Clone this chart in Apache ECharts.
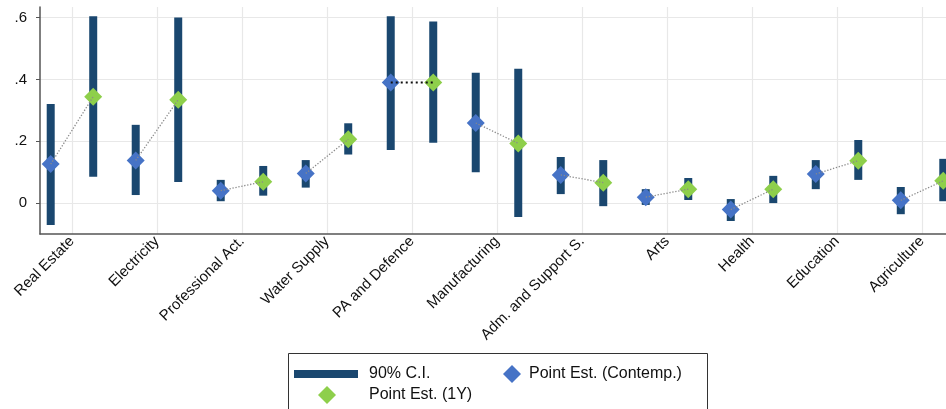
<!DOCTYPE html>
<html>
<head>
<meta charset="utf-8">
<script src="https://cdn.jsdelivr.net/npm/echarts@6/dist/echarts.min.js"></script>
<style>html,body{margin:0;padding:0;background:#fff}#c{width:946px;height:409px}</style>
</head>
<body>
<div id="c"></div>
<script>
const categories = ['Real Estate','Electricity','Professional Act.','Water Supply','PA and Defence','Manufacturing','Adm. and Support S.','Arts','Health','Education','Agriculture'];
const contempPoint = [0.126, 0.138, 0.040, 0.096, 0.390, 0.259, 0.091, 0.019, -0.021, 0.094, 0.009];
const contempLow   = [-0.071, 0.026, 0.006, 0.050, 0.172, 0.100, 0.029, -0.006, -0.058, 0.045, -0.036];
const contempHigh  = [0.320, 0.253, 0.075, 0.139, 0.604, 0.421, 0.149, 0.045, 0.013, 0.139, 0.052];
const oneYPoint    = [0.344, 0.334, 0.069, 0.206, 0.390, 0.193, 0.066, 0.045, 0.045, 0.137, 0.072];
const oneYLow      = [0.085, 0.068, 0.024, 0.157, 0.195, -0.045, -0.010, 0.010, 0.000, 0.075, 0.006];
const oneYHigh     = [0.604, 0.600, 0.120, 0.258, 0.587, 0.434, 0.139, 0.081, 0.088, 0.204, 0.143];
const yTicks = [0, 0.2, 0.4, 0.6];

const OFF = 0.25;
const idx = categories.map((_, i) => i);
const ciData = [];
idx.forEach(i => {
  ciData.push([i - OFF, contempLow[i], contempHigh[i]]);
  ciData.push([i + OFF, oneYLow[i], oneYHigh[i]]);
});
const contempData = idx.map(i => [i - OFF, contempPoint[i]]);
const oneYData = idx.map(i => [i + OFF, oneYPoint[i]]);
const connGray = [];
const connBlack = [];
idx.forEach(i => {
  const tgt = categories[i] === 'PA and Defence' ? connBlack : connGray;
  tgt.push([i - OFF, contempPoint[i]], [i + OFF, oneYPoint[i]], '-');
});

const BLUE = '#4673c6', GREEN = '#8ecf4b', NAVY = '#1a476f';
const FONT = 'Liberation Sans, Arial, sans-serif';

const chart = echarts.init(document.getElementById('c'), null, {renderer: 'canvas'});
chart.setOption({
  animation: false,
  grid: {left: 40, top: 7, right: 0, bottom: 175, containLabel: false},
  xAxis: {
    type: 'value', min: -0.376, max: 10.282,
    axisLine: {show: true, onZero: false, lineStyle: {color: '#555', width: 1.5}},
    axisTick: {show: false, customValues: idx},
    axisLabel: {
      customValues: idx, rotate: 45, margin: 5,
      fontFamily: FONT, fontSize: 15, color: '#111',
      formatter: v => categories[Math.round(v)]
    },
    splitLine: {show: true, lineStyle: {color: '#e8e8e8', width: 1.2}}
  },
  yAxis: {
    type: 'value', min: -0.1, max: 0.634,
    axisLine: {show: true, onZero: false, lineStyle: {color: '#555', width: 1.5}},
    axisTick: {show: true, length: 4, customValues: yTicks, lineStyle: {color: '#555'}},
    axisLabel: {
      customValues: yTicks, margin: 13,
      fontFamily: FONT, fontSize: 15, color: '#111',
      formatter: v => (Math.abs(v) < 1e-9 ? '0' : v.toFixed(1).replace(/^0\./, '.').replace(/^-0\./, '-.'))
    },
    splitLine: {show: true, lineStyle: {color: '#e8e8e8', width: 1.2}}
  },
  legend: [
    {data: [{name: '90% C.I.', icon: 'rect'}], left: 294, top: 366, padding: 0,
     itemWidth: 64, itemHeight: 8, textStyle: {fontFamily: FONT, fontSize: 16, color: '#111', padding: [0,0,0,6]}},
    {data: [{name: 'Point Est. (Contemp.)', icon: 'diamond'}], left: 503, top: 365, padding: 0,
     itemWidth: 18, itemHeight: 18, textStyle: {fontFamily: FONT, fontSize: 16, color: '#111', padding: [0,0,0,3]}},
    {data: [{name: 'Point Est. (1Y)', icon: 'diamond'}], left: 318, top: 386, padding: 0,
     itemWidth: 18, itemHeight: 18, textStyle: {fontFamily: FONT, fontSize: 16, color: '#111', padding: [0,0,0,28]}}
  ],
  graphic: [{
    type: 'rect', left: 288, top: 353, z: -1,
    shape: {width: 419, height: 70},
    style: {fill: '#fff', stroke: '#333', lineWidth: 1}
  }],
  series: [
    {
      name: '90% C.I.', type: 'custom', data: ciData, z: 2,
      itemStyle: {color: NAVY},
      encode: {x: 0, y: [1, 2]},
      renderItem: (params, api) => {
        const x = api.value(0);
        const top = api.coord([x, api.value(2)]);
        const bot = api.coord([x, api.value(1)]);
        const w = 8;
        return {type: 'rect', shape: {x: top[0] - w / 2, y: top[1], width: w, height: bot[1] - top[1]},
                style: {fill: NAVY}};
      }
    },
    {
      name: 'Point Est. (Contemp.)', type: 'scatter', data: contempData, z: 3,
      symbol: 'diamond', symbolSize: [18, 18], itemStyle: {color: BLUE, opacity: 1}
    },
    {
      name: 'Point Est. (1Y)', type: 'scatter', data: oneYData, z: 3,
      symbol: 'diamond', symbolSize: [18, 18], itemStyle: {color: GREEN, opacity: 1}
    },
    {
      name: 'conn', type: 'line', data: connGray, z: 4, symbol: 'none', connectNulls: false,
      lineStyle: {color: '#8a8a8a', width: 1.3, type: [1.3, 1.7]}, silent: true
    },
    {
      name: 'connPA', type: 'line', data: connBlack, z: 4, symbol: 'none', connectNulls: false,
      lineStyle: {color: '#111', width: 2, type: [2, 3]}, silent: true
    }
  ]
});
</script>
</body>
</html>
